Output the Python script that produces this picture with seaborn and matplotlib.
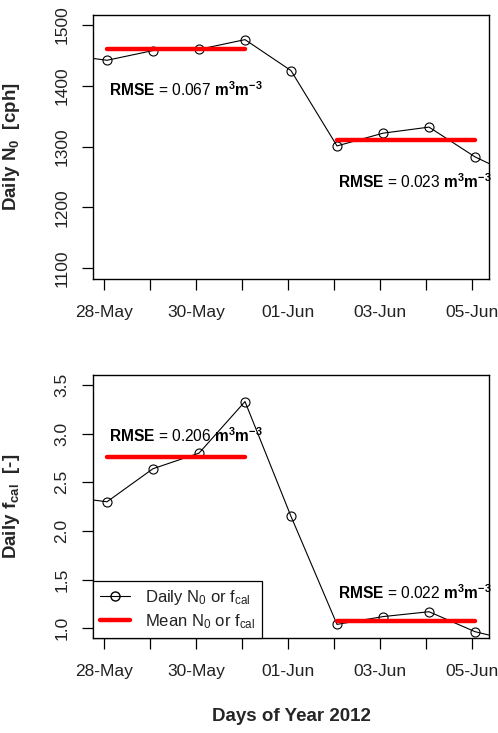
import numpy as np
import pandas as pd
import matplotlib
matplotlib.use("Agg")
import matplotlib.pyplot as plt
import seaborn as sns
from matplotlib.lines import Line2D

# ---------------- data ----------------
day_index = [-1, 0, 1, 2, 3, 4, 5, 6, 7, 8, 9]          # 0 = 28-May
n0_daily = [1452, 1442, 1458, 1460, 1476, 1425, 1301, 1322, 1332, 1283, 1247]
fcal_daily = [2.36, 2.30, 2.64, 2.80, 3.33, 2.15, 1.04, 1.12, 1.17, 0.965, 0.85]
mean_start = [0, 5]
mean_end = [3, 8]
n0_mean = [1460, 1310]
fcal_mean = [2.76, 1.07]
n0_rmse = ["0.067", "0.023"]
fcal_rmse = ["0.206", "0.022"]
tick_days = [0, 1, 2, 3, 4, 5, 6, 7, 8]
tick_labels = ["28-May", "", "30-May", "", "01-Jun", "", "03-Jun", "", "05-Jun"]
n0_yticks = [1100, 1200, 1300, 1400, 1500]
fcal_yticks = [1.0, 1.5, 2.0, 2.5, 3.0, 3.5]

# ---------------- style ----------------
sns.set_theme(style="ticks")
plt.rcParams["font.family"] = ["Liberation Sans", "DejaVu Sans"]
plt.rcParams["mathtext.fontset"] = "custom"
plt.rcParams["mathtext.rm"] = "Liberation Sans"
plt.rcParams["mathtext.it"] = "Liberation Sans:italic"
plt.rcParams["mathtext.bf"] = "Liberation Sans:bold"

time_offset = 0.065
x_pts = [d + time_offset for d in day_index]

fig = plt.figure(figsize=(4.98, 7.33), dpi=100)
ax1 = fig.add_axes([0.1867, 0.6194, 0.7953, 0.3601])
ax2 = fig.add_axes([0.1867, 0.1300, 0.7953, 0.3584])

def draw(ax, daily, means, rmses, ylim, yticks, yfmt, ylabel, text_pos):
    sns.lineplot(x=x_pts, y=daily, ax=ax, color="black", lw=0.8,
                 marker="o", ms=6.5, markerfacecolor="none",
                 markeredgecolor="black", markeredgewidth=0.8,
                 legend=False, zorder=2)
    for s, e, m in zip(mean_start, mean_end, means):
        sns.lineplot(x=[s + time_offset, e + time_offset], y=[m, m], ax=ax,
                     color="#ff0000", lw=3.2, legend=False, zorder=3)
    for (tx, ty), r in zip(text_pos, rmses):
        ax.text(tx, ty, r"$\mathbf{RMSE}$ = " + r + r" $\mathbf{m^3m^{-3}}$",
                fontsize=11.2, ha="left", va="center", color="black")
    ax.set_xlim(-0.24, 8.37)
    ax.set_ylim(*ylim)
    ax.set_xticks(tick_days)
    ax.set_xticklabels(tick_labels)
    ax.set_yticks(yticks)
    ax.set_yticklabels([yfmt.format(v) for v in yticks], rotation=90, va="center")
    ax.tick_params(axis="both", direction="out", length=8, width=0.9,
                   colors="black", labelsize=12.5, labelcolor="#222222")
    ax.tick_params(axis="x", pad=11)
    ax.tick_params(axis="y", pad=9)
    for sp in ax.spines.values():
        sp.set_visible(True)
        sp.set_color("black")
        sp.set_linewidth(1.0)
    ax.set_ylabel(ylabel, fontsize=13.5, fontweight="bold")
    ax.yaxis.set_label_coords(-0.179, 0.5)
    ax.set_xlabel("")

draw(ax1, n0_daily, n0_mean, n0_rmse, (1082, 1516.5), n0_yticks, "{:d}",
     r"Daily N$_\mathbf{0}$  [cph]", [(0.11, 1393), (5.09, 1242)])
draw(ax2, fcal_daily, fcal_mean, fcal_rmse, (0.903, 3.603), fcal_yticks, "{:.1f}",
     r"Daily f$_\mathbf{cal}$  [-]", [(0.11, 2.98), (5.09, 1.365)])

ax2.set_xlabel("Days of Year 2012", fontsize=13.5, fontweight="bold")
ax2.xaxis.set_label_coords(0.5, -0.268)

handles = [
    Line2D([], [], color="black", lw=0.8, marker="o", ms=6.5,
           markerfacecolor="none", markeredgecolor="black"),
    Line2D([], [], color="#ff0000", lw=3.2),
]
leg = ax2.legend(handles, [r"Daily N$_0$ or f$_{\mathrm{cal}}$",
                           r"Mean N$_0$ or f$_{\mathrm{cal}}$"],
                 loc="lower left", bbox_to_anchor=(0, 0), borderaxespad=0,
                 fontsize=12, frameon=True, fancybox=False, framealpha=1,
                 edgecolor="black", handlelength=1.8, handletextpad=0.9,
                 labelspacing=0.3, borderpad=0.42)
leg.get_frame().set_linewidth(0.9)
for t in leg.get_texts():
    t.set_color("#222222")

fig.savefig("out.png", dpi=100, facecolor="white")
